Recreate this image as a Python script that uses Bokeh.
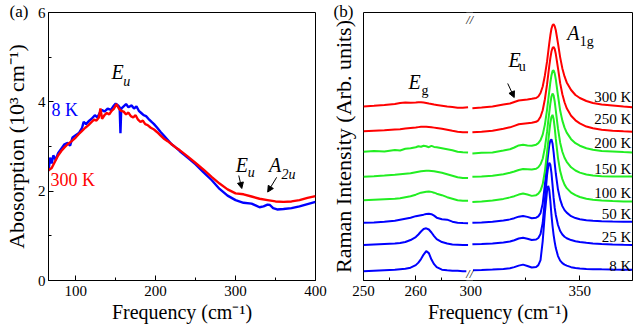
import numpy as np
from bokeh.plotting import figure
from bokeh.layouts import row
from bokeh.models import Label, Arrow, NormalHead, FixedTicker, CustomJSTickFormatter, Title
from bokeh.embed import file_html
from bokeh.resources import INLINE

FONT = "Liberation Serif"

# ---------------- Panel (a): IR absorption (10^3 cm^-1) ----------------
abs_freq_8K = [66, 68, 70, 72, 75, 78, 82, 86, 90, 93, 96, 100, 104, 108, 110, 113, 117, 120, 124, 127,
               130, 133, 136, 140, 144, 147, 150, 153, 155, 156, 157, 160, 163, 166, 170, 173, 176, 179, 182, 185,
               188, 191, 195, 198, 202, 206, 210, 215, 220, 225, 230, 240, 250, 260, 270, 280, 290, 300, 310, 320,
               325, 330, 335, 340, 343, 347, 352, 360, 370, 380, 390, 400]
abs_8K = [2.45, 2.75, 2.62, 2.80, 2.70, 2.85, 2.95, 3.05, 3.08, 3.02, 3.20, 3.25, 3.30, 3.42, 3.55, 3.50, 3.58, 3.62, 3.70, 3.65,
          3.75, 3.82, 3.78, 3.85, 3.82, 3.90, 3.96, 3.92, 3.88, 3.30, 3.85, 3.90, 3.95, 3.88, 3.92, 3.85, 3.90, 3.80, 3.75, 3.70,
          3.68, 3.62, 3.55, 3.50, 3.42, 3.33, 3.25, 3.15, 3.05, 2.98, 2.90, 2.75, 2.60, 2.42, 2.25, 2.05, 1.90, 1.80, 1.74, 1.72,
          1.68, 1.64, 1.66, 1.70, 1.69, 1.62, 1.59, 1.60, 1.62, 1.66, 1.71, 1.76]

abs_freq_300K = [66, 70, 74, 78, 82, 86, 90, 95, 100, 104, 108, 112, 116, 120, 123, 126, 129, 131, 133, 136,
                 139, 142, 145, 148, 151, 154, 157, 160, 163, 166, 169, 172, 175, 178, 181, 184, 187, 190, 194, 198,
                 202, 206, 210, 215, 220, 225, 230, 240, 250, 260, 270, 280, 290, 300, 310, 320, 330, 340, 350, 360,
                 370, 380, 390, 400]
abs_300K = [2.47, 2.52, 2.66, 2.80, 2.90, 2.98, 3.05, 3.12, 3.20, 3.28, 3.35, 3.42, 3.48, 3.55, 3.60, 3.58, 3.65, 3.85, 3.62, 3.70,
            3.75, 3.72, 3.80, 3.85, 3.95, 3.85, 3.80, 3.78, 3.72, 3.76, 3.68, 3.65, 3.70, 3.60, 3.55, 3.58, 3.50, 3.48, 3.42, 3.38,
            3.32, 3.25, 3.18, 3.12, 3.05, 2.98, 2.92, 2.78, 2.63, 2.48, 2.32, 2.17, 2.04, 1.95, 1.93, 1.88, 1.83, 1.80, 1.77, 1.76,
            1.77, 1.80, 1.85, 1.89]

abs_x_ticks = [100, 200, 300, 400]
abs_x_minor = [50, 150, 250, 350]
abs_y_ticks = [0, 2, 4, 6]
abs_y_minor = [1, 3, 5]

# ---------------- Panel (b): Raman spectra (broken frequency axis) ----------------
raman_freq_low = [250, 252, 254, 256, 257, 258, 259, 260, 260.5, 261, 261.5, 262, 262.5, 263, 263.5, 264,
                  265, 266, 267, 268, 269, 270]
raman_freq_high = [300.8, 305, 310, 315, 318, 320, 322, 324, 326, 328, 330, 331, 332, 333, 334, 335, 335.5,
                   336, 336.5, 337, 337.5, 338, 338.5, 339, 340, 341, 342, 343, 344, 346, 348, 350, 353, 356,
                   360, 365, 370, 374]

temps = ["8 K", "25 K", "50 K", "100 K", "150 K", "200 K", "250 K", "300 K"]
temp_colors = ["#0000ff", "#0000ff", "#0000ff", "#22ee22", "#22ee22", "#22ee22", "#ff0000", "#ff0000"]
stack_offsets = [9.3, 35.3, 57.6, 80.0, 103.3, 128.3, 148.6, 173.3]

low_8K = [0, 0.5, 1, 1.5, 2, 2.5, 3.5, 6, 8.5, 12, 16.5, 20, 18, 11.5, 7, 4, 1.5, 0.8, 0.5, 0.3, 0, 0]
low_25K = [0, 0.5, 1, 1.5, 2, 3, 5, 8, 10.5, 13.5, 16, 16.7, 15.5, 12.5, 9, 6, 3, 1.5, 0.5, 0.3, 0, 0]
low_50K = [0, 0.3, 1, 2, 3, 4, 5, 6.5, 7, 7.5, 8, 8.7, 9, 8.5, 7, 5, 3.5, 3, 1, 0, -0.3, -0.5]
low_100K = [0, 0.5, 1, 1.5, 2, 3, 4, 5.5, 6.5, 7.5, 8, 8.5, 8.7, 8.3, 7.5, 6.5, 5, 3, 1.5, 0, -0.5, -0.5]
low_150K = [0, 0.5, 1.2, 2, 2.5, 3, 3.5, 4.5, 5, 5.5, 5.8, 6, 6, 5.8, 5.5, 5, 4, 2.5, 1, -0.5, -1.2, -1.3]
low_200K = [0, 0.8, 0.3, 1.8, 1.2, 3, 3.5, 4.5, 5.5, 5, 6, 5.5, 4.5, 5.8, 4.8, 4.5, 3.5, 2.5, 1.5, 0, -0.5, -0.7]
low_250K = [0, 0.5, 1, 1.8, 2.2, 2.8, 3.3, 3.8, 4.2, 4.5, 4.7, 4.6, 4.3, 4, 3.7, 3.3, 2.5, 1.5, 0.5, -0.3, -0.8, -1]
low_300K = [0, 0.7, 1.5, 2.5, 3.5, 4, 3.8, 4, 4.2, 4.3, 4, 3.5, 3, 2.6, 2, 1.6, 0.8, 0, -0.5, -1.2, -1.3, -0.7]

high_8K = [1.0, 1.2, 1.6, 2.2, 3.0, 4.0, 5.5, 6.5, 5.2, 3.6, 4.2, 6.0, 11, 30, 58, 80, 85, 81, 70, 56,
           45, 36, 29, 23, 15, 10.5, 8, 6.5, 5.5, 4, 3.2, 2.6, 2.2, 2.0, 1.8, 1.6, 1.5, 1.4]
high_25K = [0.7, 1.0, 1.5, 2.5, 3.5, 4.8, 6.5, 7.3, 6.3, 5.0, 5.5, 7.0, 11, 22, 45, 70, 78, 82, 80, 72,
            60, 47, 37, 30, 20, 14, 10.5, 8.3, 6.8, 5, 3.8, 3, 2.2, 1.6, 1.0, 0.5, 0.2, 0]
high_50K = [0, 0.3, 1.0, 2.2, 3.3, 4.5, 6.0, 6.7, 5.8, 4.4, 5.0, 6.3, 9.5, 19, 38, 58, 68, 77, 82, 83,
            79, 70, 59, 49, 33, 23, 16.5, 12.5, 10, 6.5, 4.6, 3.5, 2.5, 2.0, 1.5, 1.2, 1.0, 1.0]
high_100K = [-1.7, -1.2, -0.3, 1.3, 2.8, 4.0, 5.6, 6.6, 5.6, 4.3, 5.0, 6.5, 9.5, 16, 29, 48, 58, 68, 77, 83,
             85, 81, 72, 61, 42, 29, 21, 15.5, 12, 7.5, 5, 3.2, 1.5, 0.5, -0.3, -0.8, -1.2, -1.4]
high_150K = [0, 0.3, 1.0, 2.5, 4.0, 5.3, 6.8, 7.7, 7.5, 7.3, 8.0, 9.5, 12.5, 18, 29, 45, 55, 64, 73, 80,
             83, 81, 75, 66, 48, 34, 25, 19, 15, 9.5, 6.3, 4.2, 2.3, 1.3, 0.6, 0.3, 0.3, 0.3]
high_200K = [-1.7, -1.0, -0.8, 1.2, 2.5, 4.2, 6.3, 7.0, 6.2, 6.0, 7.0, 8.5, 11.5, 17, 27, 42, 51, 60, 69, 76,
             80.5, 81, 78, 72, 56, 41, 31, 24, 19, 12.5, 8.5, 6, 3.5, 2, 0.8, 0.2, -0.4, -0.7]
high_250K = [-1, -0.5, 0.5, 2.5, 4, 5.5, 7, 7.5, 8, 8.5, 9.5, 11, 14.5, 21, 32, 47, 56, 65, 73, 79.5,
             83, 84, 82, 77, 63, 48, 37, 29, 23, 15.5, 11, 8, 4.8, 3, 1.5, 0.5, 0, -0.3]
high_300K = [-1.7, -1.0, 0, 2, 3, 4.5, 6, 6.5, 7, 7.7, 8.5, 10, 13.5, 20, 31, 45, 54, 63, 71, 77.5,
             81, 82, 80, 76, 63, 49, 38, 30, 24, 16.5, 11.5, 8.5, 5.5, 3.5, 2, 1, 0, -0.7]

raman_low = [low_8K, low_25K, low_50K, low_100K, low_150K, low_200K, low_250K, low_300K]
raman_high = [high_8K, high_25K, high_50K, high_100K, high_150K, high_200K, high_250K, high_300K]

raman_tick_freqs = [250, 260, 300, 350]
raman_tick_labels = ["250", "260", "300", "350"]
raman_minor_freqs = [255, 265, 325]

# broken-axis mapping: 250-270 segment and 300-374 segment
LOW_START, LOW_SCALE = 250.0, 5.22
HIGH_START, HIGH_SCALE, HIGH_U0 = 300.0, 2.18, 107.0


def to_u(f):
    f = np.asarray(f, dtype=float)
    return np.where(f < 285, (f - LOW_START) * LOW_SCALE, HIGH_U0 + (f - HIGH_START) * HIGH_SCALE)


def add_label(p, x, y, text, size, color="black", style="normal", align="center",
              baseline="middle", angle=0.0, bg=None):
    p.add_layout(Label(x=x, y=y, text=text, text_font=FONT, text_font_size=f"{size}px",
                       text_color=color, text_font_style=style, text_align=align,
                       text_baseline=baseline, angle=angle, background_fill_color=bg))


def add_arrow(p, x0, y0, x1, y1):
    p.add_layout(Arrow(end=NormalHead(size=6, fill_color="black", line_color="black", line_width=1),
                       x_start=x0, y_start=y0, x_end=x1, y_end=y1, line_color="black", line_width=1))


def add_panel_tag(p, text, offset):
    p.add_layout(Title(text=text, align="left", offset=offset, standoff=-18,
                       vertical_align="middle", text_font=FONT, text_font_size="17px",
                       text_font_style="normal", text_color="black"), "above")


def style_common(p):
    p.grid.visible = False
    p.outline_line_color = "black"
    p.outline_line_width = 1
    p.outline_line_alpha = 1
    p.background_fill_color = "white"
    p.border_fill_color = "white"
    for ax in p.axis:
        ax.axis_line_color = "black"
        ax.major_tick_in = 5
        ax.major_tick_out = 0
        ax.minor_tick_in = 3
        ax.minor_tick_out = 0
        ax.major_tick_line_color = "black"
        ax.minor_tick_line_color = "black"
        ax.major_label_text_font = FONT
        ax.major_label_text_font_size = "15px"
        ax.major_label_text_color = "black"
        ax.axis_label_text_font = FONT
        ax.axis_label_text_font_style = "normal"
        ax.axis_label_text_color = "black"
    for ax in p.xaxis:
        ax.major_label_standoff = 5
        ax.axis_label_standoff = 2
        ax.axis_label_text_font_size = "20px"
    for ax in p.yaxis:
        ax.axis_label_text_font_size = "22px"


# ---------------- figure (a) ----------------
p1 = figure(width=327, height=329, x_range=(66, 400), y_range=(0, 6),
            output_backend="svg", toolbar_location=None,
            min_border_left=47, min_border_right=12, min_border_top=12, min_border_bottom=49)
style_common(p1)
p1.xaxis.ticker = FixedTicker(ticks=abs_x_ticks, minor_ticks=abs_x_minor)
p1.yaxis.ticker = FixedTicker(ticks=abs_y_ticks, minor_ticks=abs_y_minor)
p1.yaxis.major_label_standoff = 3
p1.yaxis.axis_label_standoff = 6
p1.xaxis.axis_label = "Frequency (cm⁻¹)"
p1.yaxis.axis_label = "Abosorption (10³ cm⁻¹)"

p1.line(abs_freq_8K, abs_8K, line_color="#0000ff", line_width=2.4)
p1.line(abs_freq_300K, abs_300K, line_color="#ff0000", line_width=2.4)

add_panel_tag(p1, "(a)", -39)
add_label(p1, 69.7, 3.81, "8 K", 18, color="#0000ff", align="left")
add_label(p1, 68.5, 2.24, "300 K", 18, color="#ff0000", align="left")
add_label(p1, 152.6, 4.66, "E", 20, style="italic")
add_label(p1, 163.8, 4.46, "u", 14, style="italic")
add_label(p1, 307.8, 2.58, "E", 20, style="italic")
add_label(p1, 319.6, 2.42, "u", 14, style="italic")
add_label(p1, 349.5, 2.58, "A", 20, style="italic")
add_label(p1, 366.3, 2.38, "2u", 14, style="italic")
add_arrow(p1, 304.0, 2.35, 307.8, 2.06)
add_arrow(p1, 351.4, 2.31, 340.2, 1.98)

# ---------------- figure (b) ----------------
p2 = figure(width=310, height=329, x_range=(0, 268.6), y_range=(0, 267),
            output_backend="svg", toolbar_location=None,
            min_border_left=36, min_border_right=5, min_border_top=12, min_border_bottom=49)
style_common(p2)
p2.yaxis.ticker = FixedTicker(ticks=[])
p2.yaxis.major_label_standoff = 0
p2.yaxis.axis_line_color = None
p2.yaxis.axis_label_standoff = 8
p2.yaxis.axis_label = "Raman Intensity (Arb. units)"
p2.xaxis.axis_label = "Frequency (cm⁻¹)"
p2.xaxis.ticker = FixedTicker(ticks=[float(v) for v in to_u(raman_tick_freqs)],
                              minor_ticks=[float(v) for v in to_u(raman_minor_freqs)])
p2.xaxis.formatter = CustomJSTickFormatter(
    args=dict(pos=[float(v) for v in to_u(raman_tick_freqs)], labels=raman_tick_labels),
    code="""
    for (let i = 0; i < pos.length; i++) {
        if (Math.abs(tick - pos[i]) < 0.01) { return labels[i]; }
    }
    return "";
    """)

for name, color, off, lo, hi in zip(temps, temp_colors, stack_offsets, raman_low, raman_high):
    p2.line(to_u(raman_freq_low), off + np.asarray(lo), line_color=color, line_width=2)
    p2.line(to_u(raman_freq_high), off + np.asarray(hi), line_color=color, line_width=2)

label_y = [14.3, 43.3, 66.0, 87.6, 111.0, 136.6, 161.3, 182.6]
for name, ly in zip(temps, label_y):
    add_label(p2, 267.5, ly, name, 15, align="right")

# axis-break marks
add_label(p2, 106.0, 0.0, "//", 12, style="italic", baseline="bottom", bg="white")
add_label(p2, 106.0, 267.0, "//", 12, style="italic", baseline="top", bg="white")

add_panel_tag(p2, "(b)", -30)
add_label(p2, 51.0, 197.3, "E", 20, style="italic")
add_label(p2, 61.5, 189.3, "g", 14)
add_label(p2, 151.0, 219.3, "E", 20, style="italic")
add_label(p2, 158.5, 213.3, "u", 14)
add_label(p2, 209.5, 246.3, "A", 20, style="italic")
add_label(p2, 223.0, 238.3, "1g", 14)
add_arrow(p2, 144.0, 196.3, 150.5, 182.3)

layout = row(p1, p2)
open("out.html", "w").write(file_html(layout, INLINE))
